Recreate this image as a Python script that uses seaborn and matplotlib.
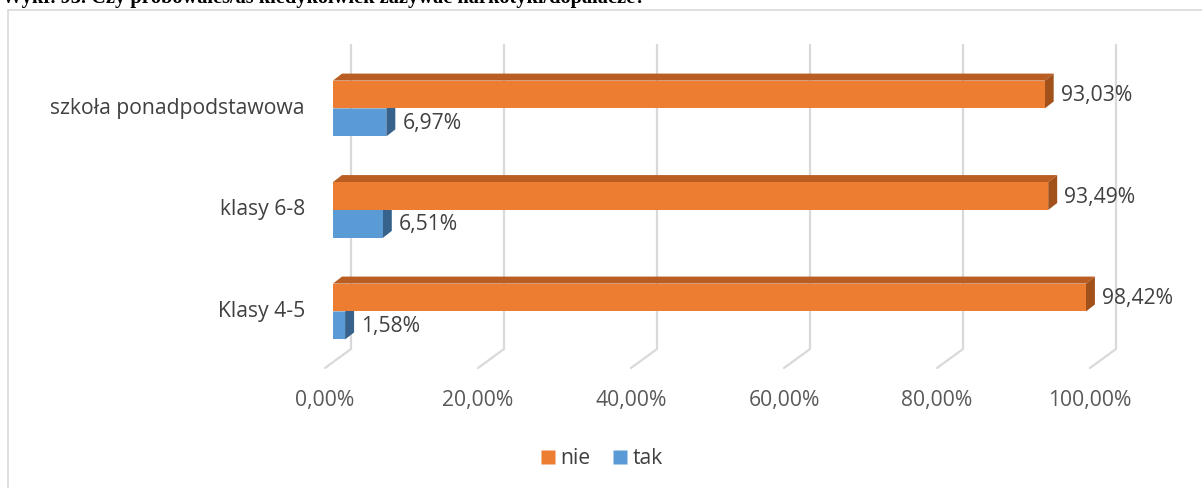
import pandas as pd
import matplotlib.pyplot as plt
import seaborn as sns
from matplotlib.patches import Polygon, Rectangle
from matplotlib.lines import Line2D

# Data
categories = ['szkoła ponadpodstawowa', 'klasy 6-8', 'Klasy 4-5']
answers = ['nie', 'tak']
nie_values = [93.03, 93.49, 98.42]
tak_values = [6.97, 6.51, 1.58]
x_ticks = [0, 20, 40, 60, 80, 100]

title = 'Wykr. 93. Czy próbowałeś/aś kiedykolwiek zażywać narkotyki/dopalacze?'

front_colors = {'nie': '#ED7D31', 'tak': '#5B9BD5'}
top_colors = {'nie': '#B95D22', 'tak': '#44749F'}
side_colors = {'nie': '#A3511B', 'tak': '#36628B'}
text_color = '#404040'
grid_color = '#D9D9D9'

df = pd.DataFrame({
    'kat': categories * 2,
    'odp': ['nie'] * 3 + ['tak'] * 3,
    'val': nie_values + tak_values,
})

sns.set_style('white')
plt.rcParams['font.family'] = ['Open Sans', 'DejaVu Sans']
FS = 15.2

W, H = 1202, 488
fig = plt.figure(figsize=(W / 100, H / 100), dpi=100)

# axes: 0% at px 333, 100% at px 1098; categories centred at 108.5 + 101.5*i
ax_top, ax_bot = 40, 370
ax = fig.add_axes([333 / W, (H - ax_bot) / H, 765 / W, (ax_bot - ax_top) / H])
y_top = -(108.5 - ax_top) / 101.5
y_bot = 2 + (ax_bot - 311.5) / 101.5

sns.barplot(data=df, y='kat', x='val', hue='odp', order=categories,
            hue_order=answers, palette=front_colors, width=0.55,
            orient='h', saturation=1, ax=ax, legend=False, zorder=3,
            linewidth=0)
ax.set_xlim(0, 100)
ax.set_ylim(y_bot, y_top)
for s in ax.spines.values():
    s.set_visible(False)
ax.set_xlabel('')
ax.set_ylabel('')
ax.set_xticks([])
ax.set_yticks([])

to_px = ax.transData.transform
to_data = ax.transData.inverted().transform


def shifted(x, y, dxp, dyp):
    px, py = to_px((x, y))
    return tuple(to_data((px + dxp, py + dyp)))


# 3D gridlines: back wall + floor, tick labels under the floor edge
for v in x_ticks:
    top = shifted(v, y_top, 18, -(45 - ax_top))
    corner = shifted(v, y_bot, 18, (ax_bot - 349))
    front = shifted(v, y_bot, -8, (ax_bot - 368))
    ax.add_line(Line2D([top[0], corner[0], front[0]], [top[1], corner[1], front[1]],
                       color=grid_color, lw=1.6, zorder=0, clip_on=False))
    lpos = shifted(v, y_bot, -8, (ax_bot - 401))
    ax.text(lpos[0], lpos[1], f'{v:.2f}%'.replace('.', ','),
            ha='center', va='center', fontsize=FS, color='#595959')

# depth faces of the bars
DX, DY = 9, 7
for ans, cont in zip(answers, ax.containers):
    for bar in cont:
        x0 = bar.get_x()
        x1 = x0 + bar.get_width()
        yb = bar.get_y()
        yt = yb + bar.get_height()
        # inverted axis: smaller y is higher on screen
        ytop, ybottom = min(yb, yt), max(yb, yt)
        p1 = shifted(x0, ytop, DX, DY)
        p2 = shifted(x1, ytop, DX, DY)
        p3 = shifted(x1, ybottom, DX, DY)
        ax.add_patch(Polygon([(x0, ytop), (x1, ytop), p2, p1], closed=True,
                             facecolor=top_colors[ans], edgecolor='none', zorder=1))
        ax.add_patch(Polygon([(x1, ytop), (x1, ybottom), p3, p2], closed=True,
                             facecolor=side_colors[ans], edgecolor='none', zorder=1))
        lab = shifted(x1, (ytop + ybottom) / 2, 16, -1)
        ax.text(lab[0], lab[1], f'{bar.get_width():.2f}%'.replace('.', ','),
                ha='left', va='center', fontsize=FS, color=text_color, zorder=4)

# category labels
for i, c in enumerate(categories):
    pos = shifted(0, i, -28, 0)
    ax.text(pos[0], pos[1], c, ha='right', va='center', fontsize=FS,
            color=text_color)

# legend
handles = [Line2D([], [], marker='s', linestyle='none', markersize=10,
                  markerfacecolor=front_colors[a], markeredgecolor='none', label=a)
           for a in answers]
leg = fig.legend(handles=handles, loc='center', bbox_to_anchor=(0.5, 1 - 459 / H),
                 ncol=2, frameon=False, fontsize=FS, handletextpad=0.2,
                 columnspacing=1.0, handlelength=0.8)
for t in leg.get_texts():
    t.set_color(text_color)

# chart frame
fig.patches.append(Rectangle((8 / W, -0.01), 1.1, 1 - 10 / H + 0.01,
                             transform=fig.transFigure, fill=False,
                             edgecolor='#D9D9D9', lw=1.2))

# title, cut off by the top edge as in the source
fig.text(2 / W, 1 - 3 / H, title, ha='left', va='baseline', fontsize=14.7,
         fontweight='bold', family=['Liberation Serif', 'DejaVu Serif'], color='black')

fig.savefig('out.png', dpi=100)
